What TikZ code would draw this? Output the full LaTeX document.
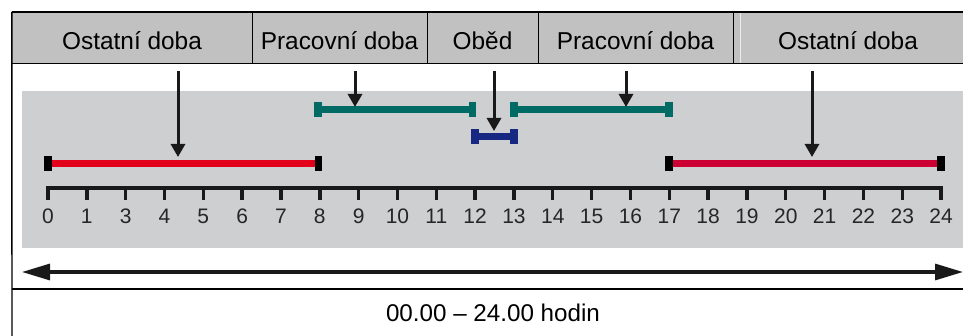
\documentclass[tikz,border=0pt]{standalone}
\usepackage{fontspec}
\setmainfont{Liberation Sans}
\usetikzlibrary{arrows.meta,calc}
\definecolor{headgray}{RGB}{193,193,193}
\definecolor{panelgray}{RGB}{206,207,209}
\definecolor{restred}{RGB}{226,0,26}
\definecolor{restcrimson}{RGB}{204,0,51}
\definecolor{workteal}{RGB}{0,106,101}
\definecolor{lunchblue}{RGB}{22,40,130}
\tikzset{
    head cell/.style = {
        fill = headgray,
        minimum height=51pt,
        inner sep=0pt,
        anchor=north,
        text height=23pt,
        text depth=0pt,
        font=\fontsize{24.4}{27}\selectfont,
        },
    frameline/.style = {
        draw=black,
        line width=1.4pt,
        },
    timebar/.style = {
        line width=7pt,
        },
    endcap/.style = {
        rectangle,
        minimum width=7.5pt,
        minimum height=15pt,
        inner sep=0pt,
        },
    pointer/.style = {
        draw=black!90,
        line width=3pt,
        -{Triangle[length=13pt,width=14pt]},
        },
    hour/.style = {
        anchor=base,
        font=\fontsize{21}{23}\selectfont,
        text=black!85,
        },
    dayspan/.style = {
        draw=black!90,
        line width=3.2pt,
        {Triangle[length=28pt,width=16pt]}-{Triangle[length=28pt,width=16pt]},
        },
}
\begin{document}
\begin{tikzpicture}[x=1pt,y=-1pt]
    \useasboundingbox (0,0) rectangle (963,336);

    % header
    \node[head cell, minimum width=240pt] (restA) at (132,12) {Ostatní doba};
    \node[head cell, minimum width=175pt] (workA) at (339.5,12) {Pracovní doba};
    \node[head cell, minimum width=111pt] (lunch) at (482.5,12) {Oběd};
    \node[head cell, minimum width=195pt] (workB) at (635.5,12) {Pracovní doba};
    \node[head cell, minimum width=230pt] (restB) at (848,12) {Ostatní doba};
    \draw[frameline] (restA.north east) -- (restA.south east);
    \draw[frameline] (workA.north east) -- (workA.south east);
    \draw[frameline] (lunch.north east) -- (lunch.south east);
    \draw[frameline] (workB.north east) -- (workB.south east);
    \draw[white!85!gray, line width=0.8pt] ($(restB.north west)+(8,0)$) -- ($(restB.south west)+(8,0)$);

    % frame lines
    \draw[frameline] (restA.north west) -- (restB.north east);
    \draw[frameline] (restA.south west) -- (restB.south east);
    \draw[frameline] (restA.north west) -- (12,336);
    \draw[frameline] (12,289) coordinate (foot) -- (963,289);

    % gray panel
    \fill[panelgray] (22,91) rectangle (963,248);

    % time axis
    \foreach \lab [count=\i from 0] in {0,1,3,4,5,6,7,8,9,10,11,12,13,14,15,16,17,18,19,20,21,22,23,24} {
        \coordinate (t\lab) at ({48+\i*38.83},188);
        \node[hour] (h\lab) at ({48+\i*38.83},224) {\lab};
        \draw[line width=3.4pt, black!90] (t\lab) -- ++(0,12);
    }
    \draw[line width=3.4pt, black!90, line join=miter] ($(t0)+(0,12)$) -- (t0) -- (t24) -- ($(t24)+(0,12)$);

    % rows of bars
    \coordinate (low) at (0,164);
    \coordinate (lunchrow) at (0,137);
    \coordinate (high) at (0,110);

    \draw[timebar, restred] (t0 |- low) -- (t8 |- low);
    \node[endcap, fill=black] at (t0 |- low) {};
    \node[endcap, fill=black] at ($(t8 |- low)+(-1.5,0)$) {};

    \draw[timebar, workteal] ($(t8 |- high)+(-2,0)$) -- ($(t12 |- high)+(-2.5,0)$);
    \node[endcap, fill=workteal] at ($(t8 |- high)+(-2,0)$) {};
    \node[endcap, fill=workteal] at ($(t12 |- high)+(-2.5,0)$) {};

    \draw[timebar, lunchblue] (t12 |- lunchrow) -- (t13 |- lunchrow);
    \node[endcap, fill=lunchblue] at (t12 |- lunchrow) {};
    \node[endcap, fill=lunchblue] at (t13 |- lunchrow) {};

    \draw[timebar, workteal] (t13 |- high) -- ($(t17 |- high)+(-0.5,0)$);
    \node[endcap, fill=workteal] at (t13 |- high) {};
    \node[endcap, fill=workteal] at ($(t17 |- high)+(-0.5,0)$) {};

    \draw[timebar, restcrimson] ($(t17 |- low)+(-0.5,0)$) -- (t24 |- low);
    \node[endcap, fill=black] at ($(t17 |- low)+(-0.5,0)$) {};
    \node[endcap, fill=black] at (t24 |- low) {};

    % pointers from header
    \coordinate (pA) at (178,157);
    \coordinate (pB) at (355,107);
    \coordinate (pC) at (494,131);
    \coordinate (pD) at (626,107);
    \coordinate (pE) at (812,157);
    \draw[pointer] (178,71) -- (pA);
    \draw[pointer] (355,71) -- (pB);
    \draw[pointer] (494,71) -- (pC);
    \draw[pointer] (626,71) -- (pD);
    \draw[pointer] (812,71) -- (pE);

    % whole day
    \coordinate (dayL) at (22,272);
    \coordinate (dayR) at (963,272);
    \draw[dayspan] (dayL) -- (dayR);
    \node[anchor=base, font=\fontsize{24.2}{27}\selectfont] (day) at (493,322) {00.00 – 24.00 hodin};
\end{tikzpicture}
\end{document}
